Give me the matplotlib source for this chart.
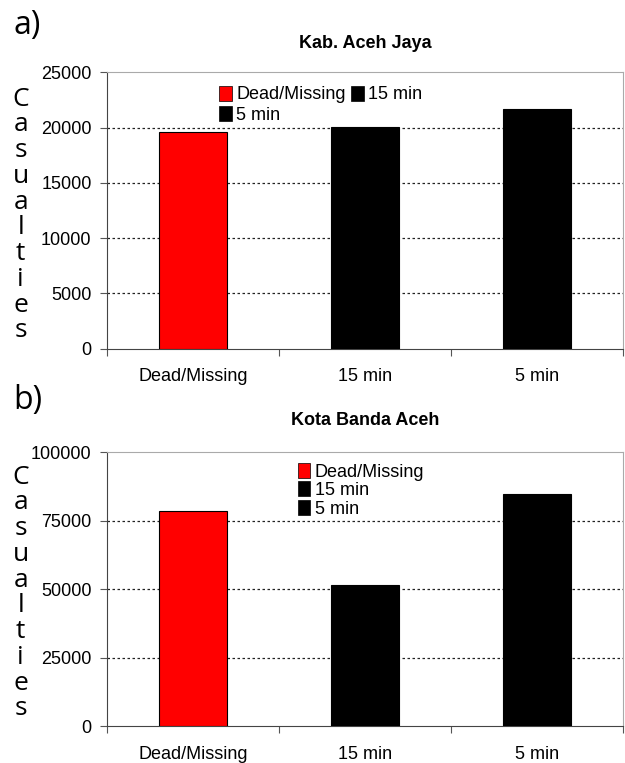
import matplotlib
matplotlib.use("Agg")
import matplotlib.pyplot as plt
from matplotlib.patches import Patch

categories = ["Dead/Missing", "15 min", "5 min"]
aceh_jaya = [19600, 20080, 21740]
banda_aceh = [78500, 51700, 85000]
bar_colors = ["#ff0000", "#000000", "#000000"]

FONT = "Liberation Sans"


def draw_panel(ax, values, title, ymax, step, legend_pos, two_col, title_pad):
    x = [i + 0.5 for i in range(len(categories))]
    ax.bar(x, values, width=0.4, color=bar_colors, edgecolor="black", linewidth=0.8, zorder=3)
    ax.set_xlim(0, len(categories))
    ax.set_ylim(0, ymax)

    yt = list(range(0, ymax + 1, step))
    ax.set_yticks(yt)
    ax.set_yticklabels([str(v) for v in yt], fontfamily=FONT, fontsize=13)
    for v in yt[1:-1]:
        ax.axhline(v, color="#222222", linestyle=(0, (2, 2)), linewidth=0.9, zorder=1)

    # category boundaries get the tick marks, labels sit in the middle
    ax.set_xticks(range(len(categories) + 1))
    ax.set_xticklabels([])
    ax.set_xticks(x, minor=True)
    ax.set_xticklabels(categories, minor=True, fontfamily=FONT, fontsize=13)
    ax.tick_params(axis="x", which="minor", length=0, pad=14)
    ax.tick_params(axis="x", which="major", length=5, direction="out", color="#555555")
    ax.tick_params(axis="y", length=5, direction="out", color="#555555", pad=6)

    ax.spines["left"].set_color("#444444")
    ax.spines["bottom"].set_color("#444444")
    ax.spines["top"].set_color("#aaaaaa")
    ax.spines["right"].set_color("#aaaaaa")

    ax.set_title(title, fontfamily=FONT, fontsize=13, fontweight="bold", pad=title_pad)

    handles = [Patch(facecolor=c, edgecolor="black", linewidth=0.5) for c in bar_colors]
    if two_col:
        order = [0, 2, 1]
        leg = ax.legend([handles[i] for i in order], [categories[i] for i in order],
                        ncol=2, loc="upper left", bbox_to_anchor=legend_pos,
                        frameon=False, handlelength=0.7, handleheight=0.9,
                        handletextpad=0.25, columnspacing=0.3, labelspacing=0.15,
                        borderpad=0, prop={"family": FONT, "size": 13})
    else:
        leg = ax.legend(handles, categories, loc="upper left", bbox_to_anchor=legend_pos,
                        frameon=False, handlelength=0.7, handleheight=0.9,
                        handletextpad=0.25, labelspacing=0.05, borderpad=0,
                        prop={"family": FONT, "size": 13})
    leg.set_zorder(5)


fig = plt.figure(figsize=(6.25, 7.63), dpi=100)
ax1 = fig.add_axes([0.171, 0.543, 0.826, 0.362])
ax2 = fig.add_axes([0.171, 0.048, 0.826, 0.359])

draw_panel(ax1, aceh_jaya, "Kab. Aceh Jaya", 25000, 5000, (0.2, 0.985), True, 17.5)
draw_panel(ax2, banda_aceh, "Kota Banda Aceh", 100000, 25000, (0.352, 0.995), False, 20)

fig.text(0.022, 0.966, "a)", fontfamily="Open Sans", fontsize=23, va="center")
fig.text(0.022, 0.475, "b)", fontfamily="Open Sans", fontsize=23, va="center")

ylabel = "\n".join("Casualties")
fig.text(0.033, 1 - 215 / 763, ylabel, fontfamily="Open Sans", fontsize=19,
         ha="center", va="center", linespacing=1.04)
fig.text(0.033, 1 - 593 / 763, ylabel, fontfamily="Open Sans", fontsize=19,
         ha="center", va="center", linespacing=1.04)

fig.savefig("out.png", dpi=100, facecolor="white")
